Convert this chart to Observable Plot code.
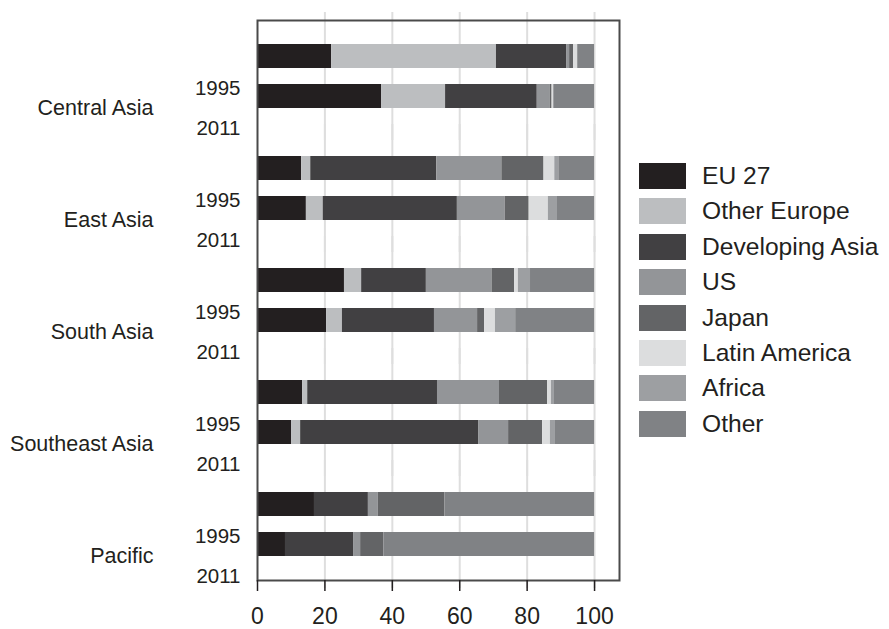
<!DOCTYPE html>
<html>
<head>
<meta charset="utf-8">
<script src="https://cdn.jsdelivr.net/npm/d3@7"></script>
<script src="https://cdn.jsdelivr.net/npm/@observablehq/plot@0.6"></script>
<style>
  html, body { margin: 0; padding: 0; background: #fff; }
  #wrap { position: relative; width: 889px; height: 629px; font-family: "Liberation Sans", Arial, sans-serif; }
  #legend { position: absolute; left: 639px; top: 163px; }
  .row { display: flex; align-items: center; height: 26px; margin-bottom: 9.4px; }
  .sw { width: 47px; height: 26px; margin-right: 16px; flex: none; }
  .lab { font-size: 24.6px; line-height: 26px; color: #231f20; white-space: nowrap; }
</style>
</head>
<body>
<div id="wrap"><div id="chart"></div><div id="legend"></div></div>
<script>
const regions = ["Central Asia", "East Asia", "South Asia", "Southeast Asia", "Pacific"];
const years = ["1995", "2011"];
const partners = ["EU 27", "Other Europe", "Developing Asia", "US", "Japan", "Latin America", "Africa", "Other"];
const partnerColors = ["#231f20", "#bcbec0", "#414042", "#939598", "#636466", "#dcddde", "#9d9fa2", "#808285"];
const xTicks = [0, 20, 40, 60, 80, 100];

// shares (%) by partner, in the order of `partners`
const centralAsia1995 = [22.0, 48.9, 20.8, 0.9, 1.2, 1.2, 0.0, 5.0];
const centralAsia2011 = [36.8, 19.0, 27.2, 3.9, 0.5, 0.5, 0.0, 12.1];
const eastAsia1995 = [13.1, 2.7, 37.4, 19.3, 12.5, 3.2, 1.2, 10.6];
const eastAsia2011 = [14.5, 5.0, 39.8, 14.2, 7.1, 5.7, 2.7, 11.0];
const southAsia1995 = [25.8, 5.1, 19.2, 19.6, 6.6, 1.1, 3.6, 19.0];
const southAsia2011 = [20.5, 4.7, 27.3, 12.8, 2.1, 3.2, 6.0, 23.4];
const southeastAsia1995 = [13.4, 1.5, 38.5, 18.4, 14.3, 1.1, 0.9, 11.9];
const southeastAsia2011 = [10.1, 2.7, 52.8, 8.9, 10.1, 2.3, 1.5, 11.6];
const pacific1995 = [16.9, 0.0, 16.0, 2.9, 19.8, 0.0, 0.0, 44.4];
const pacific2011 = [8.3, 0.0, 20.2, 2.1, 6.9, 0.0, 0.0, 62.5];

const series = [
  [centralAsia1995, centralAsia2011],
  [eastAsia1995, eastAsia2011],
  [southAsia1995, southAsia2011],
  [southeastAsia1995, southeastAsia2011],
  [pacific1995, pacific2011]
];

const data = [];
regions.forEach((region, i) => {
  years.forEach((year, j) => {
    series[i][j].forEach((value, k) => {
      data.push({region, year, partner: partners[k], value});
    });
  });
});

const chart = Plot.plot({
  width: 625,
  height: 629,
  marginLeft: 257,
  marginRight: 6,
  marginTop: 13,
  marginBottom: 42,
  style: {fontFamily: '"Liberation Sans", Arial, sans-serif', fontSize: "20px", color: "#231f20", background: "#fff", overflow: "visible"},
  x: {domain: [0, 107.4]},
  y: {domain: years, paddingInner: 0.4, paddingOuter: 0.6},
  fy: {domain: regions, paddingInner: 0, paddingOuter: 0.053},
  color: {domain: partners, range: partnerColors},
  marks: [
    Plot.gridX(xTicks.slice(1), {stroke: "#dedede", strokeOpacity: 1, strokeWidth: 2, insetTop: -8, insetBottom: -8}),
    Plot.barX(data, {x: "value", y: "year", fy: "region", fill: "partner"}),
    Plot.frame({stroke: "#4a4a4a", strokeWidth: 2, facet: "super"}),
    Plot.axisX({ticks: xTicks, tickSize: 11, tickPadding: 16, fontSize: 23, label: null, stroke: "#231f20", strokeWidth: 1.5}),
    Plot.axisY({tickSize: 0, tickPadding: 17, dy: 32, fontSize: 20.5, label: null}),
    Plot.axisFy({anchor: "left", tickSize: 0, tickPadding: 104, dy: 32, fontSize: 21.5, label: null})
  ]
});
document.getElementById("chart").appendChild(chart);

const legend = document.getElementById("legend");
partners.forEach((p, i) => {
  const row = document.createElement("div");
  row.className = "row";
  const sw = document.createElement("div");
  sw.className = "sw";
  sw.style.background = partnerColors[i];
  const lab = document.createElement("span");
  lab.className = "lab";
  lab.textContent = p;
  row.appendChild(sw);
  row.appendChild(lab);
  legend.appendChild(row);
});
</script>
</body>
</html>
